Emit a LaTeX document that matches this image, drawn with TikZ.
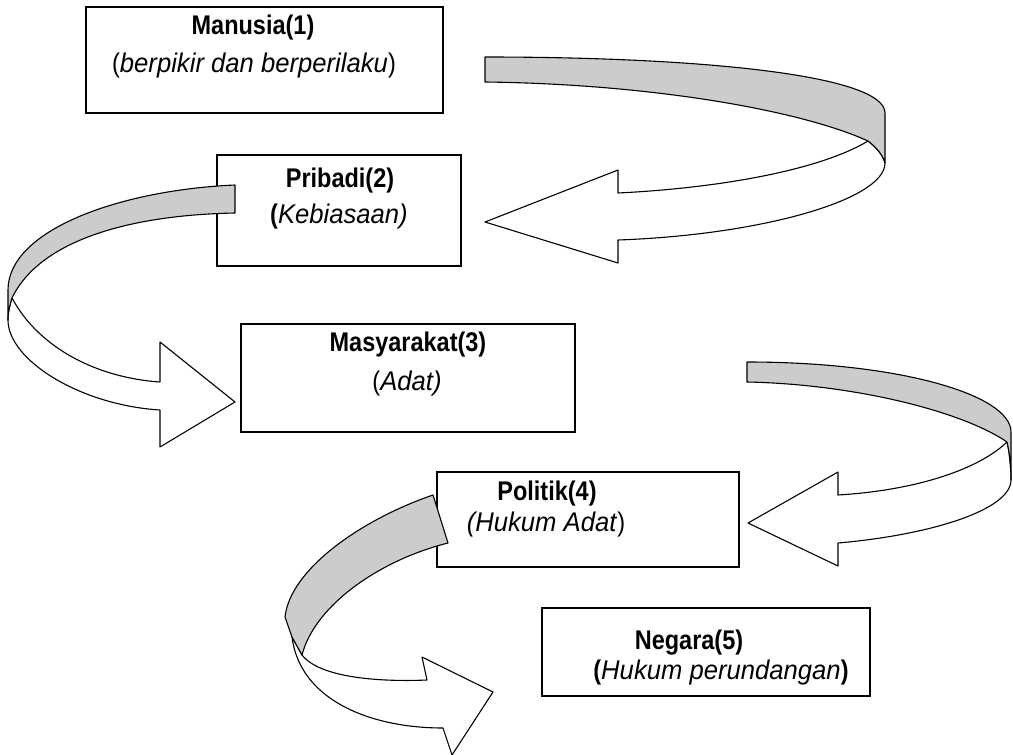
\documentclass[tikz,border=0pt]{standalone}
\usepackage{fontspec}
\setmainfont{Liberation Sans}[FakeStretch=0.87, ItalicFeatures={FakeStretch=0.95}]
\usepackage{tikz}
\usetikzlibrary{positioning}
\definecolor{cback}{HTML}{CCCCCC}
\tikzset{
  box/.style={draw, line width=1.6pt, outer sep=0pt, inner sep=0pt},
  txt/.style={anchor=base, inner sep=0pt, font=\fontsize{27}{30}\selectfont},
  front/.style={draw, fill=white, line width=1.1pt, line join=round},
  back/.style={front, fill=cback},
}
\begin{document}
\begin{tikzpicture}[x=1pt,y=-1pt]
\useasboundingbox (0,0) rectangle (1013,755);
% boxes
\node[box, minimum width=357, minimum height=106] (manusia) at (264.5,60) {};
\node[box, minimum width=244, minimum height=111] (pribadi) at (339,210.5) {};
\node[box, minimum width=334, minimum height=108] (masyarakat) at (408,378) {};
\node[box, minimum width=302, minimum height=95] (politik) at (588,519.5) {};
\node[box, minimum width=328, minimum height=88] (negara) at (706,652) {};
% curved arrows: front side white, back side grey
\draw[front] (868,141) .. controls (820,170) and (720,188) .. (618,193) -- (618,170) -- (485,222) -- (618,263) -- (618,240)
  .. controls (760,235) and (885,200) .. (885,163) .. controls (883,155) and (876,147) .. (868,141) -- cycle;
\draw[back] (485,57) .. controls (700,57) and (885,75) .. (885,113) -- (885,163)
  .. controls (883,155) and (876,147) .. (868,141) .. controls (800,110) and (650,84) .. (485,82) -- cycle;
\draw[front] (12,298) .. controls (40,350) and (100,378) .. (160,382) -- (160,342) -- (235,402) -- (160,447) -- (160,410)
  .. controls (80,405) and (8,360) .. (8,320) .. controls (8,312) and (10,304) .. (12,298) -- cycle;
\draw[back] (235,185) .. controls (120,190) and (8,230) .. (8,290) -- (8,320)
  .. controls (8,312) and (10,304) .. (12,298) .. controls (40,240) and (130,215) .. (235,213) -- cycle;
\draw[front] (1007,442) .. controls (980,468) and (920,490) .. (838,495) -- (838,472) -- (748,523) -- (838,566) -- (838,543)
  .. controls (930,535) and (1011,510) .. (1011,480) .. controls (1011,465) and (1009,450) .. (1007,442) -- cycle;
\draw[back] (747,362) .. controls (900,362) and (1011,395) .. (1011,432) -- (1011,480)
  .. controls (1011,465) and (1009,450) .. (1007,442) .. controls (960,410) and (850,384) .. (747,382) -- cycle;
\draw[front] (302,655) .. controls (320,678) and (380,682) .. (427,680) -- (422,657) -- (493,692) -- (452,755) -- (443,728)
  .. controls (370,728) and (300,700) .. (292,637) -- (302,655) -- cycle;
\draw[back] (433,495) .. controls (360,520) and (290,570) .. (285,617) -- (292,637) -- (302,655)
  .. controls (315,605) and (380,560) .. (448,543) -- cycle;
% labels
\node[txt] (manusiaA) at (253,34) {\textbf{Manusia(1)}};
\node[txt] (manusiaB) at (254,72) {(\textit{berpikir dan berperilaku})};
\node[txt] (pribadiA) at (340,187) {\textbf{Pribadi(2)}};
\node[txt] (pribadiB) at (339,223) {\textbf{(}\textit{Kebiasaan)}};
\node[txt] (masyarakatA) at (408,351) {\textbf{Masyarakat(3)}};
\node[txt] (masyarakatB) at (407,390) {(\textit{Adat)}};
\node[txt] (politikA) at (547,500) {\textbf{Politik(4)}};
\node[txt] (politikB) at (546,531) {\textit{(Hukum Adat})};
\node[txt] (negaraA) at (689,649) {\textbf{Negara(5)}};
\node[txt] (negaraB) at (721,679) {\textbf{(}\textit{Hukum perundangan}\textbf{)}};
\end{tikzpicture}
\end{document}
